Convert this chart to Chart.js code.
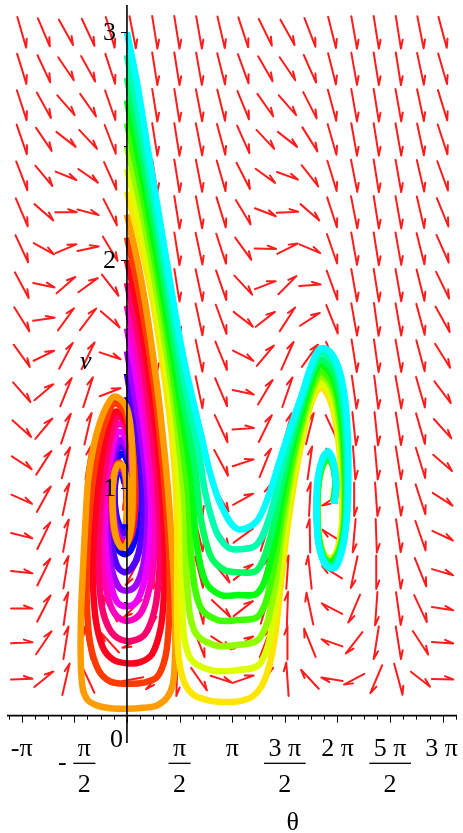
<!DOCTYPE html>
<html>
<head>
<meta charset="utf-8">
<script src="https://cdn.jsdelivr.net/npm/chart.js@4.4.1/dist/chart.umd.min.js"></script>
<style>
  html, body { margin: 0; padding: 0; background: #fff; }
  canvas { display: block; }
</style>
</head>
<body>
<canvas id="phase" width="463" height="833"></canvas>
<script>
// direction field grid (theta across, v up)
const gridTheta = [-3.14, -2.48, -1.82, -1.16, -0.50, 0.17, 0.83, 1.49, 2.15, 2.81, 3.47, 4.13, 4.79, 5.46, 6.12, 6.78, 7.44, 8.10, 8.76, 9.42];
const gridV = [0.16, 0.32, 0.47, 0.63, 0.79, 0.95, 1.11, 1.26, 1.42, 1.58, 1.74, 1.89, 2.05, 2.21, 2.37, 2.53, 2.68, 2.84, 3.00];

// arrow direction on screen, degrees clockwise from +theta, one row per gridV (bottom row first)
const fieldAngle = [
  [-2, -39, -77, -115, -154, 169, 131, 92, 55, 18, -19, -56, -94, -133, -171, 152, 113, 75, 38, 1],
  [-3, -56, -81, -101, -132, 154, 110, 89, 69, 33, -32, -69, -90, -112, -161, 128, 99, 81, 57, 4],
  [0, -63, -82, -95, -118, 136, 100, 87, 74, 43, -38, -73, -88, -102, -153, 113, 94, 82, 65, 9],
  [6, -64, -81, -91, -108, 118, 95, 86, 76, 51, -39, -74, -86, -96, -148, 102, 90, 82, 68, 16],
  [14, -64, -80, -88, -99, 103, 91, 85, 77, 56, -36, -73, -84, -91, -148, 95, 88, 82, 71, 25],
  [24, -61, -78, -84, -90, 92, 88, 84, 77, 59, -29, -71, -81, -87, 148, 90, 86, 81, 72, 33],
  [33, -57, -75, -81, -78, 86, 86, 83, 77, 62, -18, -68, -79, -82, 68, 86, 85, 81, 73, 41],
  [42, -50, -72, -77, -58, 82, 84, 82, 78, 65, -4, -64, -75, -76, 65, 84, 84, 81, 74, 48],
  [49, -40, -68, -72, -21, 80, 83, 82, 78, 67, 12, -59, -71, -67, 65, 82, 83, 80, 74, 53],
  [54, -26, -62, -64, 18, 78, 82, 81, 78, 68, 27, -50, -66, -54, 67, 81, 82, 80, 75, 58],
  [58, -8, -54, -53, 41, 78, 82, 81, 78, 70, 38, -38, -57, -33, 68, 80, 82, 80, 75, 61],
  [62, 12, -41, -36, 52, 77, 81, 81, 78, 71, 47, -21, -45, -4, 70, 80, 81, 80, 76, 64],
  [65, 29, -23, -12, 59, 77, 81, 81, 78, 72, 54, 1, -27, 23, 71, 80, 81, 80, 76, 66],
  [67, 41, 0, 15, 63, 77, 81, 81, 79, 73, 59, 21, -3, 41, 72, 79, 81, 80, 77, 68],
  [69, 50, 22, 35, 66, 78, 81, 81, 79, 74, 63, 36, 20, 52, 73, 79, 81, 80, 77, 70],
  [71, 56, 38, 47, 69, 78, 81, 81, 79, 75, 66, 47, 38, 58, 74, 80, 81, 80, 78, 72],
  [72, 61, 49, 55, 71, 78, 81, 81, 79, 76, 68, 55, 49, 63, 75, 80, 81, 80, 78, 73],
  [73, 65, 56, 61, 72, 78, 81, 81, 80, 76, 70, 60, 56, 66, 76, 80, 81, 81, 78, 74],
  [74, 67, 61, 65, 74, 79, 81, 81, 80, 77, 72, 64, 61, 69, 76, 80, 81, 81, 79, 75]
];

// solution curves, all starting on theta = 0 ([theta, v] points)
const startV = [1.4, 1.5, 1.6, 1.7, 1.8, 1.9, 2.0, 2.1, 2.2, 2.3, 2.4, 2.5, 2.6, 2.7, 2.8, 2.9, 3.0];

const traj14 = [[0,1.4],[0.17,1.3],[0.3,1.2],[0.37,1.08],[0.39,0.97],[0.35,0.87],[0.25,0.78],[0.08,0.72],[-0.1,0.71],[-0.3,0.74],[-0.43,0.83],[-0.46,0.95],[-0.4,1.06],[-0.28,1.13],[-0.13,1.15],[0,1.12],[0.1,1.05],[0.13,0.97],[0.08,0.88],[-0.05,0.83],[-0.2,0.83],[-0.33,0.89],[-0.37,0.98],[-0.3,1.06],[-0.17,1.07],[-0.07,1.02]];
const traj15 = [[0,1.5],[0.21,1.32],[0.38,1.16],[0.48,1.03],[0.5,0.93],[0.46,0.82],[0.34,0.71],[0.15,0.65],[-0.08,0.63],[-0.3,0.66],[-0.46,0.76],[-0.52,0.9],[-0.48,1.03],[-0.37,1.13],[-0.22,1.18],[-0.06,1.17],[0.08,1.1],[0.16,1.0],[0.15,0.9],[0.06,0.83],[-0.1,0.8],[-0.28,0.83],[-0.38,0.93],[-0.37,1.04],[-0.25,1.09],[-0.1,1.07],[-0.03,0.99]];
const traj16 = [[0,1.6],[0.24,1.4],[0.43,1.22],[0.56,1.06],[0.62,0.93],[0.6,0.8],[0.5,0.67],[0.3,0.58],[0.05,0.55],[-0.22,0.56],[-0.45,0.64],[-0.57,0.77],[-0.58,0.92],[-0.5,1.06],[-0.38,1.16],[-0.22,1.21],[-0.05,1.19],[0.1,1.12],[0.2,1.01],[0.2,0.9],[0.12,0.81],[-0.05,0.77],[-0.25,0.79],[-0.4,0.88],[-0.42,1.0],[-0.3,1.08],[-0.15,1.09],[-0.03,1.03],[-0.02,0.95]];
const traj17 = [[0,1.7],[0.26,1.5],[0.47,1.3],[0.62,1.12],[0.71,0.96],[0.72,0.86],[0.66,0.72],[0.5,0.58],[0.28,0.5],[0,0.48],[-0.3,0.5],[-0.52,0.6],[-0.64,0.75],[-0.65,0.9],[-0.58,1.04],[-0.45,1.16],[-0.3,1.24],[-0.12,1.24],[0.05,1.18],[0.18,1.07],[0.22,0.95],[0.18,0.84],[0.05,0.77],[-0.15,0.76],[-0.35,0.82],[-0.43,0.95],[-0.36,1.07],[-0.2,1.1],[-0.05,1.05],[0,0.98]];
const traj18 = [[0,1.8],[0.27,1.6],[0.5,1.4],[0.67,1.2],[0.79,1.02],[0.84,0.86],[0.8,0.7],[0.67,0.56],[0.45,0.46],[0.15,0.42],[-0.2,0.425],[-0.48,0.48],[-0.67,0.6],[-0.75,0.75],[-0.73,0.9],[-0.64,1.05],[-0.5,1.18],[-0.33,1.27],[-0.15,1.28],[0.03,1.23],[0.18,1.12],[0.25,0.98],[0.22,0.86],[0.1,0.78],[-0.12,0.75],[-0.35,0.8],[-0.45,0.93],[-0.4,1.06],[-0.24,1.11],[-0.07,1.07],[0,0.99]];
const traj19 = [[0,1.9],[0.29,1.7],[0.52,1.5],[0.7,1.3],[0.85,1.1],[0.95,0.92],[0.99,0.76],[0.95,0.6],[0.82,0.46],[0.55,0.36],[0.2,0.33],[-0.2,0.335],[-0.52,0.38],[-0.75,0.48],[-0.85,0.65],[-0.84,0.8],[-0.76,0.97],[-0.62,1.13],[-0.45,1.25],[-0.3,1.31],[-0.12,1.3],[0.05,1.24],[0.2,1.12],[0.26,0.98],[0.22,0.86],[0.1,0.78],[-0.12,0.75],[-0.35,0.8],[-0.45,0.93],[-0.4,1.06],[-0.24,1.11],[-0.07,1.07],[0,0.99]];
const traj20 = [[0,2.0],[0.3,1.8],[0.54,1.6],[0.74,1.4],[0.9,1.2],[1.03,1.0],[1.11,0.8],[1.13,0.66],[1.1,0.52],[1.0,0.38],[0.75,0.27],[0.4,0.235],[0,0.23],[-0.4,0.245],[-0.72,0.3],[-0.93,0.42],[-1.02,0.6],[-1.0,0.75],[-0.92,0.92],[-0.78,1.1],[-0.6,1.24],[-0.4,1.33],[-0.2,1.33],[0,1.28],[0.16,1.17],[0.24,1.03],[0.22,0.9],[0.1,0.79],[-0.12,0.75],[-0.35,0.8],[-0.45,0.93],[-0.4,1.06],[-0.24,1.11],[-0.07,1.07],[0,0.99],[-0.05,0.9]];
const traj21 = [[0,2.1],[0.3,1.9],[0.55,1.7],[0.76,1.5],[0.93,1.3],[1.07,1.1],[1.18,0.9],[1.26,0.7],[1.28,0.55],[1.25,0.4],[1.15,0.26],[0.9,0.17],[0.5,0.145],[0,0.14],[-0.5,0.15],[-0.85,0.2],[-1.1,0.32],[-1.2,0.5],[-1.19,0.68],[-1.12,0.88],[-1.0,1.05],[-0.82,1.2],[-0.6,1.31],[-0.4,1.37],[-0.2,1.36],[0,1.31],[0.15,1.2],[0.22,1.05],[0.2,0.9],[0.08,0.78],[-0.12,0.74],[-0.35,0.79],[-0.45,0.92],[-0.4,1.05],[-0.25,1.11],[-0.08,1.08],[0,0.99],[-0.05,0.9]];
const traj22 = [[0,2.2],[0.31,2.0],[0.56,1.8],[0.76,1.6],[0.94,1.4],[1.09,1.2],[1.22,1.0],[1.32,0.8],[1.4,0.6],[1.44,0.4],[1.43,0.25],[1.37,0.14],[1.2,0.08],[0.9,0.045],[0.5,0.035],[0,0.03],[-0.5,0.033],[-0.9,0.045],[-1.18,0.07],[-1.32,0.12],[-1.38,0.25],[-1.37,0.45],[-1.31,0.65],[-1.24,0.85],[-1.16,1.03],[-1.0,1.18],[-0.8,1.29],[-0.6,1.36],[-0.4,1.4],[-0.2,1.39],[0,1.35],[0.12,1.25],[0.17,1.1],[0.17,0.95],[0.12,0.82],[-0.02,0.75],[-0.18,0.74],[-0.35,0.8],[-0.43,0.92],[-0.4,1.04],[-0.28,1.1],[-0.14,1.1],[-0.02,1.04],[0.01,0.93],[-0.04,0.84]];
const traj23 = [[0,2.3],[0.44,2.05],[0.76,1.83],[1.01,1.6],[1.2,1.4],[1.36,1.2],[1.46,1.0],[1.5,0.8],[1.5,0.6],[1.5,0.4],[1.55,0.25],[1.7,0.15],[2.0,0.09],[2.5,0.065],[3.0,0.06],[3.4,0.065],[3.75,0.085],[4.02,0.13],[4.25,0.22],[4.42,0.35],[4.55,0.52],[4.7,0.72],[4.88,0.92],[5.08,1.1],[5.3,1.26],[5.52,1.38],[5.78,1.44],[6.02,1.4],[6.22,1.3],[6.35,1.15],[6.42,0.99],[6.42,0.85],[6.3,0.74],[6.1,0.69],[5.88,0.71],[5.72,0.8],[5.68,0.93],[5.75,1.05],[5.93,1.12],[6.11,1.11],[6.22,1.03],[6.16,0.94]];
const traj24 = [[0,2.4],[0.47,2.11],[1.04,1.65],[1.41,1.25],[1.61,0.86],[1.64,0.49],[1.86,0.26],[2.5,0.2],[3.29,0.2],[3.98,0.23],[4.39,0.44],[4.68,0.78],[5.05,1.12],[5.51,1.4],[5.78,1.46],[6.03,1.43],[6.23,1.33],[6.37,1.17],[6.45,1.0],[6.44,0.86],[6.32,0.74],[6.1,0.68],[5.88,0.7],[5.72,0.79],[5.68,0.93],[5.75,1.05],[5.93,1.12],[6.11,1.11],[6.22,1.03],[6.16,0.94]];
const traj25 = [[0,2.5],[0.49,2.18],[1.06,1.71],[1.46,1.31],[1.72,0.92],[1.79,0.59],[2.02,0.37],[2.6,0.31],[3.29,0.31],[3.96,0.34],[4.37,0.53],[4.66,0.84],[5.02,1.15],[5.51,1.42],[5.77,1.49],[6.03,1.46],[6.25,1.37],[6.4,1.2],[6.48,1.02],[6.47,0.86],[6.35,0.74],[6.1,0.68],[5.88,0.7],[5.72,0.79],[5.68,0.93],[5.75,1.05],[5.93,1.12],[6.11,1.11],[6.22,1.03],[6.16,0.94]];
const traj26 = [[0,2.6],[0.52,2.24],[1.09,1.77],[1.5,1.36],[1.82,0.98],[1.93,0.68],[2.18,0.48],[2.7,0.42],[3.29,0.42],[3.94,0.44],[4.34,0.62],[4.64,0.89],[5.0,1.17],[5.5,1.44],[5.77,1.51],[6.04,1.48],[6.26,1.4],[6.43,1.23],[6.5,1.03],[6.49,0.86],[6.37,0.74],[6.12,0.68],[5.9,0.69],[5.72,0.78],[5.68,0.93],[5.75,1.05],[5.93,1.12],[6.11,1.11],[6.22,1.03],[6.16,0.94]];
const traj27 = [[0,2.7],[0.54,2.3],[1.11,1.82],[1.55,1.41],[1.93,1.03],[2.06,0.78],[2.34,0.59],[2.8,0.53],[3.29,0.53],[3.91,0.54],[4.32,0.7],[4.62,0.95],[4.97,1.2],[5.5,1.47],[5.76,1.54],[6.04,1.51],[6.27,1.43],[6.45,1.25],[6.53,1.04],[6.51,0.86],[6.39,0.75],[6.14,0.67],[5.92,0.68],[5.72,0.78],[5.67,0.92],[5.74,1.05],[5.92,1.13],[6.1,1.12],[6.23,1.02],[6.17,0.94]];
const traj28 = [[0,2.8],[0.57,2.36],[1.14,1.88],[1.59,1.46],[2.03,1.09],[2.2,0.87],[2.5,0.7],[2.9,0.64],[3.29,0.63],[3.89,0.64],[4.29,0.79],[4.6,1.0],[4.95,1.22],[5.49,1.49],[5.76,1.56],[6.04,1.54],[6.28,1.46],[6.48,1.28],[6.55,1.05],[6.53,0.86],[6.41,0.75],[6.16,0.66],[5.94,0.67],[5.72,0.77],[5.67,0.92],[5.73,1.05],[5.9,1.13],[6.08,1.13],[6.23,1.02],[6.18,0.93]];
const traj29 = [[0,2.9],[0.59,2.43],[1.16,1.94],[1.64,1.52],[2.15,1.15],[2.35,0.97],[2.66,0.81],[3.0,0.74],[3.29,0.73],[3.87,0.75],[4.27,0.88],[4.58,1.06],[4.92,1.25],[5.49,1.51],[5.75,1.59],[6.05,1.57],[6.3,1.5],[6.51,1.31],[6.58,1.07],[6.55,0.88],[6.44,0.75],[6.2,0.655],[5.95,0.665],[5.72,0.76],[5.66,0.91],[5.71,1.04],[5.87,1.14],[6.05,1.15],[6.24,1.01],[6.18,0.93]];
const traj30 = [[0,3.0],[0.3,2.78],[0.62,2.49],[0.92,2.23],[1.19,1.99],[1.45,1.76],[1.69,1.57],[1.96,1.39],[2.25,1.21],[2.49,1.06],[2.82,0.92],[3.29,0.82],[3.85,0.85],[4.24,0.97],[4.56,1.12],[4.89,1.27],[5.22,1.41],[5.48,1.53],[5.75,1.61],[6.05,1.6],[6.31,1.53],[6.49,1.41],[6.58,1.26],[6.61,1.08],[6.58,0.9],[6.46,0.75],[6.22,0.65],[5.93,0.66],[5.72,0.75],[5.66,0.9],[5.69,1.04],[5.84,1.13],[6.02,1.16],[6.19,1.1],[6.25,1.01],[6.19,0.93]];

const trajectories = [traj14, traj15, traj16, traj17, traj18, traj19, traj20, traj21, traj22,
                      traj23, traj24, traj25, traj26, traj27, traj28, traj29, traj30];
const trajColors = ["hsl(240,100%,50%)", "hsl(259,100%,50%)", "hsl(278,100%,50%)", "hsl(296,100%,50%)",
                    "hsl(315,100%,50%)", "hsl(334,100%,50%)", "hsl(353,100%,50%)", "hsl(14,100%,50%)",
                    "hsl(37,100%,50%)", "hsl(54,100%,50%)", "hsl(68,100%,50%)", "hsl(86,100%,50%)",
                    "hsl(105,100%,50%)", "hsl(124,100%,50%)", "hsl(143,100%,50%)", "hsl(161,100%,50%)",
                    "hsl(180,100%,50%)"];

// axis ticks
const xTickValues = [-Math.PI, -Math.PI / 2, 0, Math.PI / 2, Math.PI, 3 * Math.PI / 2, 2 * Math.PI, 5 * Math.PI / 2, 3 * Math.PI];
const xTickLabels = ["-π", "-π/2", "0", "π/2", "π", "3 π/2", "2 π", "5 π/2", "3 π"];
const yTickValues = [1, 2, 3];
const yTickLabels = ["1", "2", "3"];

const FONT = "'Liberation Serif', 'DejaVu Serif', serif";

// red half-headed arrows under the curves
const fieldPlugin = {
  id: "field",
  beforeDatasetsDraw(chart) {
    const { ctx, scales: { x, y } } = chart;
    const cw = Math.abs(x.getPixelForValue(gridTheta[1]) - x.getPixelForValue(gridTheta[0]));
    const ch = Math.abs(y.getPixelForValue(gridV[1]) - y.getPixelForValue(gridV[0]));
    const A = 0.97 * cw, B = 0.92 * ch;
    const ba = 20 * Math.PI / 180, bl = 9;
    ctx.save();
    ctx.strokeStyle = "rgb(255,28,28)";
    ctx.lineWidth = 2;
    ctx.lineCap = "round";
    ctx.lineJoin = "round";
    gridV.forEach((v, j) => {
      gridTheta.forEach((t, i) => {
        const a = fieldAngle[j][i] * Math.PI / 180;
        const c = Math.cos(a), s = Math.sin(a);
        const len = 1 / Math.sqrt(c * c / (A * A) + s * s / (B * B));
        const px = x.getPixelForValue(t), py = y.getPixelForValue(v);
        const x1 = px + c * len / 2, y1 = py + s * len / 2;
        ctx.beginPath();
        ctx.moveTo(px - c * len / 2, py - s * len / 2);
        ctx.lineTo(x1, y1);
        ctx.lineTo(x1 + (-c * Math.cos(ba) + s * Math.sin(ba)) * bl,
                   y1 + (-s * Math.cos(ba) - c * Math.sin(ba)) * bl);
        ctx.stroke();
      });
    });
    ctx.restore();
  }
};

// axes through the origin, ticks and labels
const axisPlugin = {
  id: "axes",
  afterDatasetsDraw(chart) {
    const { ctx, chartArea: area, scales: { x, y } } = chart;
    const x0 = x.getPixelForValue(0), y0 = y.getPixelForValue(0);
    ctx.save();
    ctx.strokeStyle = "#000";
    ctx.lineWidth = 1.6;
    ctx.beginPath();
    ctx.moveTo(area.left, y0); ctx.lineTo(area.right, y0);
    ctx.moveTo(x0, area.top); ctx.lineTo(x0, area.bottom);
    ctx.stroke();

    ctx.lineWidth = 1;
    ctx.beginPath();
    for (let k = -12; k <= 28; k++) {
      const px = Math.round(x.getPixelForValue(k * Math.PI / 8)) + 0.5;
      if (px < area.left || px > area.right) continue;
      ctx.moveTo(px, y0);
      ctx.lineTo(px, y0 + (k % 4 === 0 ? 7 : 4));
    }
    yTickValues.forEach(v => {
      const py = Math.round(y.getPixelForValue(v)) + 0.5;
      ctx.moveTo(x0 - 6, py); ctx.lineTo(x0, py);
    });
    for (let v = 0.5; v < 3.1; v += 1) {
      const py = Math.round(y.getPixelForValue(v)) + 0.5;
      ctx.moveTo(x0 - 3, py); ctx.lineTo(x0, py);
    }
    ctx.stroke();

    ctx.fillStyle = "#000";
    ctx.font = "26px " + FONT;
    ctx.textBaseline = "alphabetic";
    xTickValues.forEach((val, i) => {
      const lab = xTickLabels[i];
      const px = x.getPixelForValue(val);
      if (lab === "0") {
        ctx.textAlign = "right";
        ctx.fillText("0", x0 - 4, y0 + 31);
        return;
      }
      ctx.textAlign = "center";
      if (lab.includes("/")) {
        let s = lab, neg = false;
        if (s[0] === "-") { neg = true; s = s.slice(1); }
        const [num, den] = s.split("/");
        const w = Math.max(ctx.measureText(num).width, ctx.measureText(den).width) + 9;
        const cx = neg ? px + 10 : px;
        ctx.fillText(num, cx, y0 + 40);
        ctx.fillText(den, cx, y0 + 76);
        ctx.fillRect(cx - w / 2, y0 + 47, w, 1.3);
        if (neg) ctx.fillText("-", cx - w / 2 - 11, y0 + 54);
      } else {
        const w = ctx.measureText(lab).width;
        let cx = px;
        if (cx + w / 2 > area.right + 1) cx = area.right + 1 - w / 2;
        ctx.fillText(lab, cx, y0 + 40);
      }
    });

    ctx.textAlign = "right";
    ctx.textBaseline = "middle";
    yTickValues.forEach((v, i) => {
      ctx.fillText(yTickLabels[i], x0 - 11, y.getPixelForValue(v) + 1);
    });

    ctx.textBaseline = "alphabetic";
    ctx.textAlign = "left";
    ctx.font = "italic 26px " + FONT;
    ctx.fillText("v", x0 - 47, y.getPixelForValue(1.52));
    ctx.textAlign = "center";
    ctx.font = "26px " + FONT;
    ctx.fillText("θ", x.getPixelForValue(4.95), y0 + 114);
    ctx.restore();
  }
};

new Chart(document.getElementById("phase"), {
  type: "scatter",
  data: {
    datasets: trajectories.map((tr, i) => ({
      label: "v(0) = " + startV[i],
      data: tr.map(p => ({ x: p[0], y: p[1] })),
      showLine: true,
      borderColor: trajColors[i],
      backgroundColor: trajColors[i],
      borderWidth: 6.5,
      borderJoinStyle: "round",
      pointRadius: 0,
      tension: 0.35,
      fill: false,
      order: trajectories.length - i
    }))
  },
  options: {
    responsive: false,
    animation: false,
    devicePixelRatio: 1,
    events: [],
    layout: { padding: { left: 7, right: 6, top: 5, bottom: 90 } },
    plugins: { legend: { display: false }, tooltip: { enabled: false } },
    scales: {
      x: { type: "linear", min: -3.58, max: 9.85, display: false },
      y: { type: "linear", min: -0.12, max: 3.12, display: false }
    }
  },
  plugins: [fieldPlugin, axisPlugin]
});
</script>
</body>
</html>
